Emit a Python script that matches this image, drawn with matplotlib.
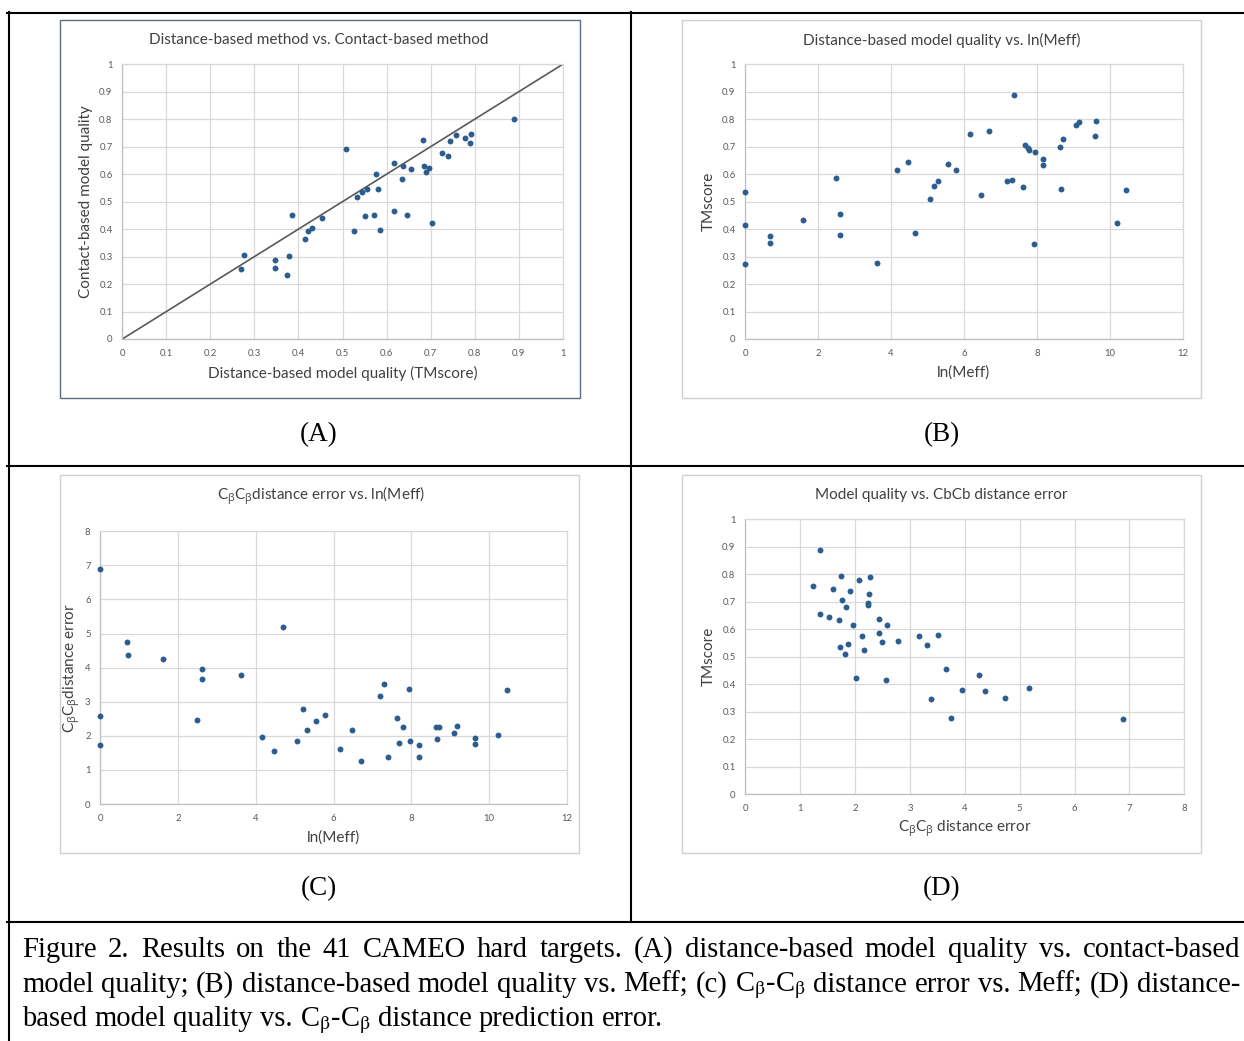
import matplotlib
matplotlib.use("Agg")
import matplotlib.pyplot as plt
from matplotlib.patches import Rectangle
from matplotlib.lines import Line2D

# ---------------- data ----------------
# (A) distance-based vs contact-based model quality
a_dist = [0.889, 0.682, 0.509, 0.757, 0.744, 0.778, 0.792, 0.790, 0.726, 0.739,
          0.616, 0.637, 0.685, 0.696, 0.690, 0.656, 0.575, 0.634, 0.556, 0.580,
          0.544, 0.534, 0.616, 0.646, 0.572, 0.552, 0.385, 0.453, 0.704, 0.431,
          0.421, 0.525, 0.585, 0.414, 0.277, 0.379, 0.346, 0.270, 0.347, 0.373]
a_cont = [0.800, 0.723, 0.692, 0.743, 0.721, 0.733, 0.746, 0.715, 0.676, 0.665,
          0.640, 0.629, 0.631, 0.623, 0.607, 0.619, 0.600, 0.581, 0.547, 0.547,
          0.536, 0.518, 0.466, 0.453, 0.453, 0.448, 0.453, 0.439, 0.424, 0.404,
          0.394, 0.392, 0.397, 0.365, 0.305, 0.302, 0.286, 0.256, 0.257, 0.233]
a_diag = [0, 1]

# (B) TMscore vs ln(Meff)
b_lnmeff = [0.0, 0.0, 0.0, 0.69, 0.69, 1.59, 2.48, 2.60, 2.60, 3.62,
            4.16, 4.45, 4.66, 5.06, 5.19, 5.30, 5.56, 5.77, 6.17, 6.47,
            6.69, 7.19, 7.31, 7.38, 7.62, 7.68, 7.75, 7.79, 7.95, 7.92,
            8.18, 8.18, 8.63, 8.72, 8.65, 9.08, 9.15, 9.62, 9.59, 10.21, 10.44]
b_tm = [0.535, 0.416, 0.272, 0.375, 0.348, 0.433, 0.585, 0.454, 0.380, 0.278,
        0.617, 0.644, 0.386, 0.511, 0.556, 0.576, 0.637, 0.617, 0.745, 0.524,
        0.757, 0.574, 0.579, 0.890, 0.553, 0.706, 0.695, 0.687, 0.682, 0.346,
        0.657, 0.633, 0.698, 0.727, 0.545, 0.779, 0.790, 0.792, 0.739, 0.422, 0.542]

# (C) CbCb distance error vs ln(Meff)
c_lnmeff = [0.0, 0.0, 0.0, 0.68, 0.72, 1.61, 2.61, 2.61, 2.50, 3.63,
            4.69, 4.17, 4.47, 5.06, 5.22, 5.33, 5.56, 5.79, 6.18, 6.48,
            6.70, 7.20, 7.31, 7.40, 7.64, 7.69, 7.79, 7.94, 7.96, 8.20,
            8.20, 8.64, 8.71, 8.66, 9.11, 9.17, 9.63, 9.63, 10.22, 10.46]
c_err = [6.90, 2.58, 1.73, 4.74, 4.38, 4.25, 3.96, 3.66, 2.45, 3.77,
         5.18, 1.98, 1.55, 1.84, 2.80, 2.16, 2.43, 2.61, 1.61, 2.18,
         1.25, 3.18, 3.53, 1.38, 2.52, 1.78, 2.25, 3.38, 1.86, 1.72,
         1.38, 2.25, 2.26, 1.91, 2.07, 2.28, 1.93, 1.75, 2.03, 3.34]

# (D) TMscore vs CbCb distance error
d_err = [1.36, 1.23, 1.74, 2.28, 2.07, 1.59, 1.91, 2.25, 1.76, 2.24,
         2.24, 1.84, 1.36, 1.52, 1.70, 2.43, 1.96, 2.58, 2.13, 2.43,
         3.16, 3.52, 2.50, 2.79, 3.32, 1.88, 1.73, 2.17, 1.82, 3.65,
         4.26, 2.01, 2.56, 3.95, 4.37, 5.17, 3.39, 4.74, 3.74, 6.88]
d_tm = [0.890, 0.757, 0.792, 0.790, 0.779, 0.745, 0.739, 0.727, 0.706, 0.695,
        0.687, 0.682, 0.655, 0.646, 0.635, 0.637, 0.617, 0.617, 0.576, 0.585,
        0.574, 0.579, 0.553, 0.556, 0.542, 0.545, 0.534, 0.524, 0.511, 0.454,
        0.432, 0.422, 0.416, 0.380, 0.375, 0.385, 0.346, 0.348, 0.278, 0.272]

ticks_unit = [0, 0.1, 0.2, 0.3, 0.4, 0.5, 0.6, 0.7, 0.8, 0.9, 1]
ticks_meff = [0, 2, 4, 6, 8, 10, 12]
ticks_err8 = [0, 1, 2, 3, 4, 5, 6, 7, 8]

titles = ["Distance-based method vs. Contact-based method",
          "Distance-based model quality vs. ln(Meff)",
          "C$_{\\mathrm{β}}$C$_{\\mathrm{β}}$distance error vs. ln(Meff)",
          "Model quality vs. CbCb distance error"]
xlabels = ["Distance-based model quality (TMscore)", "ln(Meff)", "ln(Meff)",
           "C$_{\\mathrm{β}}$C$_{\\mathrm{β}}$ distance error"]
ylabels = ["Contact-based model quality", "TMscore",
           "C$_{\\mathrm{β}}$C$_{\\mathrm{β}}$distance error", "TMscore"]
panel_tags = ["(A)", "(B)", "(C)", "(D)"]

caption_lines = [
    "Figure 2. Results on the 41 CAMEO hard targets. (A) distance-based model quality vs. contact-based",
    "model quality; (B) distance-based model quality vs. Meff; (c) C$_{\\mathrm{β}}$-C$_{\\mathrm{β}}$ distance error vs. Meff; (D) distance-",
    "based model quality vs. C$_{\\mathrm{β}}$-C$_{\\mathrm{β}}$ distance prediction error.",
]

# ---------------- style ----------------
plt.rcParams['font.family'] = ['Lato', 'DejaVu Sans']
plt.rcParams['mathtext.fontset'] = 'custom'
plt.rcParams['mathtext.rm'] = 'Open Sans'
plt.rcParams['mathtext.it'] = 'Open Sans:italic'

W, H = 1244, 1041
fig = plt.figure(figsize=(W / 100, H / 100), dpi=100)

def fxy(x, y):
    return x / W, 1 - y / H

def add_ax(x0, y0, x1, y1):
    return fig.add_axes([x0 / W, 1 - y1 / H, (x1 - x0) / W, (y1 - y0) / H])

TXT = '#404040'
TICK = '#595959'
GRID = '#d9d9d9'
AXLINE = '#bfbfbf'
DOT = '#2c5d8f'

def style(ax, xt, yt, xlim, ylim):
    ax.set_xlim(*xlim)
    ax.set_ylim(*ylim)
    ax.set_xticks(xt)
    ax.set_yticks(yt)
    ax.set_xticklabels([f"{v:g}" for v in xt])
    ax.set_yticklabels([f"{v:g}" for v in yt])
    ax.grid(True, color=GRID, linewidth=0.9)
    ax.set_axisbelow(True)
    for s in ['top', 'right']:
        ax.spines[s].set_color(GRID)
        ax.spines[s].set_linewidth(0.9)
    for s in ['left', 'bottom']:
        ax.spines[s].set_color(AXLINE)
        ax.spines[s].set_linewidth(0.9)
    ax.tick_params(length=0, labelsize=6.8, labelcolor=TICK, pad=7)

# chart boxes
boxes = [(60, 20, 580, 398, '#5b6f82'), (682, 20, 1201, 398, '#d0d0d0'),
         (60, 475, 579, 853, '#d0d0d0'), (682, 475, 1201, 853, '#d0d0d0')]
for x0, y0, x1, y1, c in boxes:
    fx0, fy1 = fxy(x0, y1)
    fig.add_artist(Rectangle((fx0, fy1), (x1 - x0) / W, (y1 - y0) / H,
                             transform=fig.transFigure, fill=False,
                             edgecolor=c, linewidth=1.0))

# table lines
def hline(y, x0, x1):
    fig.add_artist(Line2D([x0 / W, x1 / W], [1 - y / H, 1 - y / H],
                          transform=fig.transFigure, color='black', linewidth=1.5))
def vline(x, y0, y1):
    fig.add_artist(Line2D([x / W, x / W], [1 - y0 / H, 1 - y1 / H],
                          transform=fig.transFigure, color='black', linewidth=1.5))
hline(12.5, 7.5, 1244)
hline(466, 7.5, 1244)
hline(921.5, 7.5, 1244)
vline(8.5, 12, 1041)
vline(631, 12, 921.5)

# ---------------- panels ----------------
DOT_S = 18
axA = add_ax(122.3, 64.3, 562.7, 339)
style(axA, ticks_unit, ticks_unit, (0, 1), (0, 1))
axA.plot(a_diag, a_diag, color='#595959', linewidth=1.2, zorder=2)
axA.scatter(a_dist, a_cont, s=DOT_S, color=DOT, zorder=3, clip_on=False, linewidths=0)

axB = add_ax(745.3, 64.3, 1182.7, 339)
style(axB, ticks_meff, ticks_unit, (0, 12), (0, 1))
axB.scatter(b_lnmeff, b_tm, s=DOT_S, color=DOT, zorder=3, clip_on=False, linewidths=0)

axC = add_ax(100.3, 531.3, 566.7, 804)
style(axC, ticks_meff, ticks_err8, (0, 12), (0, 8))
axC.scatter(c_lnmeff, c_err, s=DOT_S, color=DOT, zorder=3, clip_on=False, linewidths=0)

axD = add_ax(745.3, 519.3, 1184.3, 794)
style(axD, ticks_err8, ticks_unit, (0, 8), (0, 1))
axD.scatter(d_err, d_tm, s=DOT_S, color=DOT, zorder=3, clip_on=False, linewidths=0)

# titles / labels placed in pixel coords
title_pos = [(318.7, 40), (941.5, 40), (321, 495.5), (941.7, 495)]
xlab_pos = [(342.5, 373), (963, 373), (333, 838), (964.5, 829)]
ylab_pos = [(85.7, 201.7), (708.7, 201), (72, 668), (708.7, 656)]
tag_pos = [(319, 435), (942, 435), (319, 889), (942, 889)]

for i in range(4):
    fig.text(*fxy(*title_pos[i]), titles[i], ha='center', va='center',
             fontsize=11, color=TXT)
    fig.text(*fxy(*xlab_pos[i]), xlabels[i], ha='center', va='center',
             fontsize=11, color=TXT)
    fig.text(*fxy(*ylab_pos[i]), ylabels[i], ha='center', va='center',
             fontsize=11, color=TXT, rotation=90)
    fig.text(*fxy(*tag_pos[i]), panel_tags[i], ha='center', va='center',
             fontsize=19.5, family='Liberation Serif', color='black')

# ---------------- caption (justified) ----------------
renderer = fig.canvas.get_renderer()
cap_base = [957, 991.5, 1026]
cap_x0, cap_x1 = 22, 1240

def text_w(s, fs):
    t = fig.text(0, 0, s, fontsize=fs, family='Liberation Serif',
                 math_fontfamily='stix')
    w = t.get_window_extent(renderer).width
    t.remove()
    return w

# font size so that the two full lines fit with natural spacing
fits = [17.5 * (cap_x1 - cap_x0) / text_w(l, 17.5) for l in caption_lines[:2]]
cap_fs = min(fits) * 0.995
natural_gap = text_w('a b', cap_fs) - text_w('ab', cap_fs)

for li, line in enumerate(caption_lines):
    words = line.split(' ')
    objs = []
    for w in words:
        t = fig.text(0, 1 - cap_base[li] / H, w, ha='left', va='baseline',
                     fontsize=cap_fs, family='Liberation Serif', color='black',
                     math_fontfamily='stix')
        objs.append(t)
    widths = [t.get_window_extent(renderer).width for t in objs]
    if li < len(caption_lines) - 1:
        gap = (cap_x1 - cap_x0 - sum(widths)) / (len(words) - 1)
    else:
        gap = natural_gap
    x = cap_x0
    for t, w in zip(objs, widths):
        t.set_x(x / W)
        x += w + gap

fig.savefig('out.png', dpi=100)
